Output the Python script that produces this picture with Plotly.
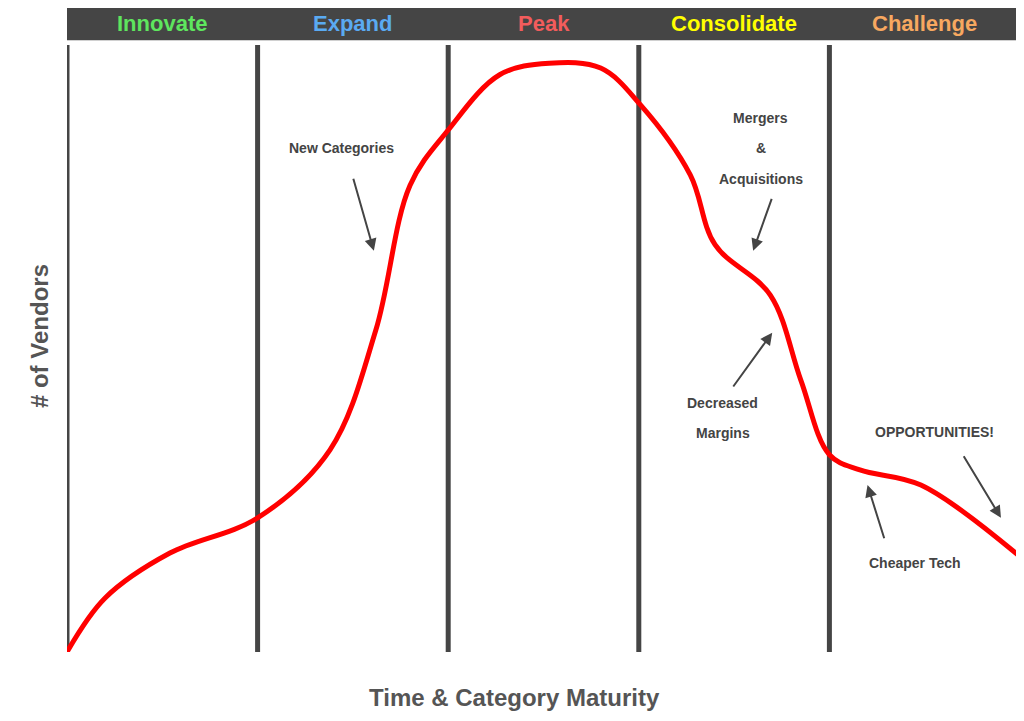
import plotly.graph_objects as go

# curve: stage position (0..5) vs relative vendor count
stage_x = [0, 0.2, 0.54, 1.0, 1.38, 1.62, 1.80, 2.0, 2.27, 2.53, 2.80, 3.01, 3.27, 3.40, 3.69, 3.85, 4.0, 4.16, 4.48, 5.0]
vendors = [0, 8.9, 16.3, 22.1, 33.3, 53.0, 76.9, 86.0, 95.1, 97.0, 96.2, 90.1, 78.6, 67.1, 58.8, 44.8, 32.5, 30.0, 27.5, 15.7]

stages = ["Innovate", "Expand", "Peak", "Consolidate", "Challenge"]
stage_colors = ["#5ee65e", "#5aaaf2", "#f25c5c", "#ffff00", "#f7a860"]

# annotation text lines, first line position (stage x, y) and arrow (tail, head)
notes = [
    (["New Categories"], (1.44, 83.0), (1.50, 78.2), (1.61, 66.1)),
    (["Mergers", "&", "Acquisitions"], (3.64, 88.0), (3.70, 74.9), (3.60, 66.1)),
    (["Decreased", "Margins"], (3.44, 41.0), (3.49, 43.5), (3.70, 52.6)),
    (["OPPORTUNITIES!"], (4.55, 36.2), (4.70, 32.5), (4.90, 22.1)),
    (["Cheaper Tech"], (4.45, 14.7), (4.29, 18.5), (4.20, 27.5)),
]
LINE_STEP = 5.0  # y units between text lines

PX_X = 190.6  # pixels per stage
PX_Y = 6.07   # pixels per y unit

fig = go.Figure()
fig.add_trace(go.Scatter(x=stage_x, y=vendors, mode="lines",
                         line=dict(color="#ff0000", width=5, shape="spline", smoothing=1.0),
                         hoverinfo="skip", showlegend=False))

for i in range(6):
    fig.add_shape(type="line", x0=i, x1=i, y0=0, y1=100, xref="x", yref="y",
                  line=dict(color="#454545", width=5), layer="below")

# header bar
fig.add_shape(type="rect", x0=0, x1=5, y0=100.8, y1=106.1, xref="x", yref="y",
              fillcolor="#454545", line=dict(width=0))
for i, (s, c) in enumerate(zip(stages, stage_colors)):
    fig.add_annotation(x=i + 0.5, y=103.6, text="<b>" + s + "</b>", showarrow=False,
                       font=dict(size=22, color=c, family="Liberation Sans"))

for lines, (tx, ty), (ax0, ay0), (hx, hy) in notes:
    for k, line in enumerate(lines):
        fig.add_annotation(x=tx, y=ty - k * LINE_STEP, text="<b>" + line + "</b>", showarrow=False,
                           font=dict(size=14, color="#444", family="Liberation Sans"))
    fig.add_annotation(x=hx, y=hy, ax=(ax0 - hx) * PX_X, ay=-(ay0 - hy) * PX_Y,
                       text="", showarrow=True, arrowhead=2, arrowsize=1.2,
                       arrowwidth=2, arrowcolor="#444")

fig.update_layout(
    width=1024, height=721, plot_bgcolor="white", paper_bgcolor="white",
    margin=dict(l=59, r=12, t=0, b=77),
    xaxis=dict(range=[0, 5], visible=False),
    yaxis=dict(range=[0, 106.1], visible=False),
    font=dict(family="Liberation Sans"),
)
fig.add_annotation(xref="paper", yref="paper", x=-0.045, y=0.49, textangle=-90,
                   text="<b># of Vendors</b>", showarrow=False,
                   font=dict(size=24, color="#555"))
fig.add_annotation(xref="paper", yref="paper", x=0.47, y=-0.095,
                   text="<b>Time & Category Maturity</b>", showarrow=False,
                   font=dict(size=24, color="#555"))

fig.write_html("out.html")
